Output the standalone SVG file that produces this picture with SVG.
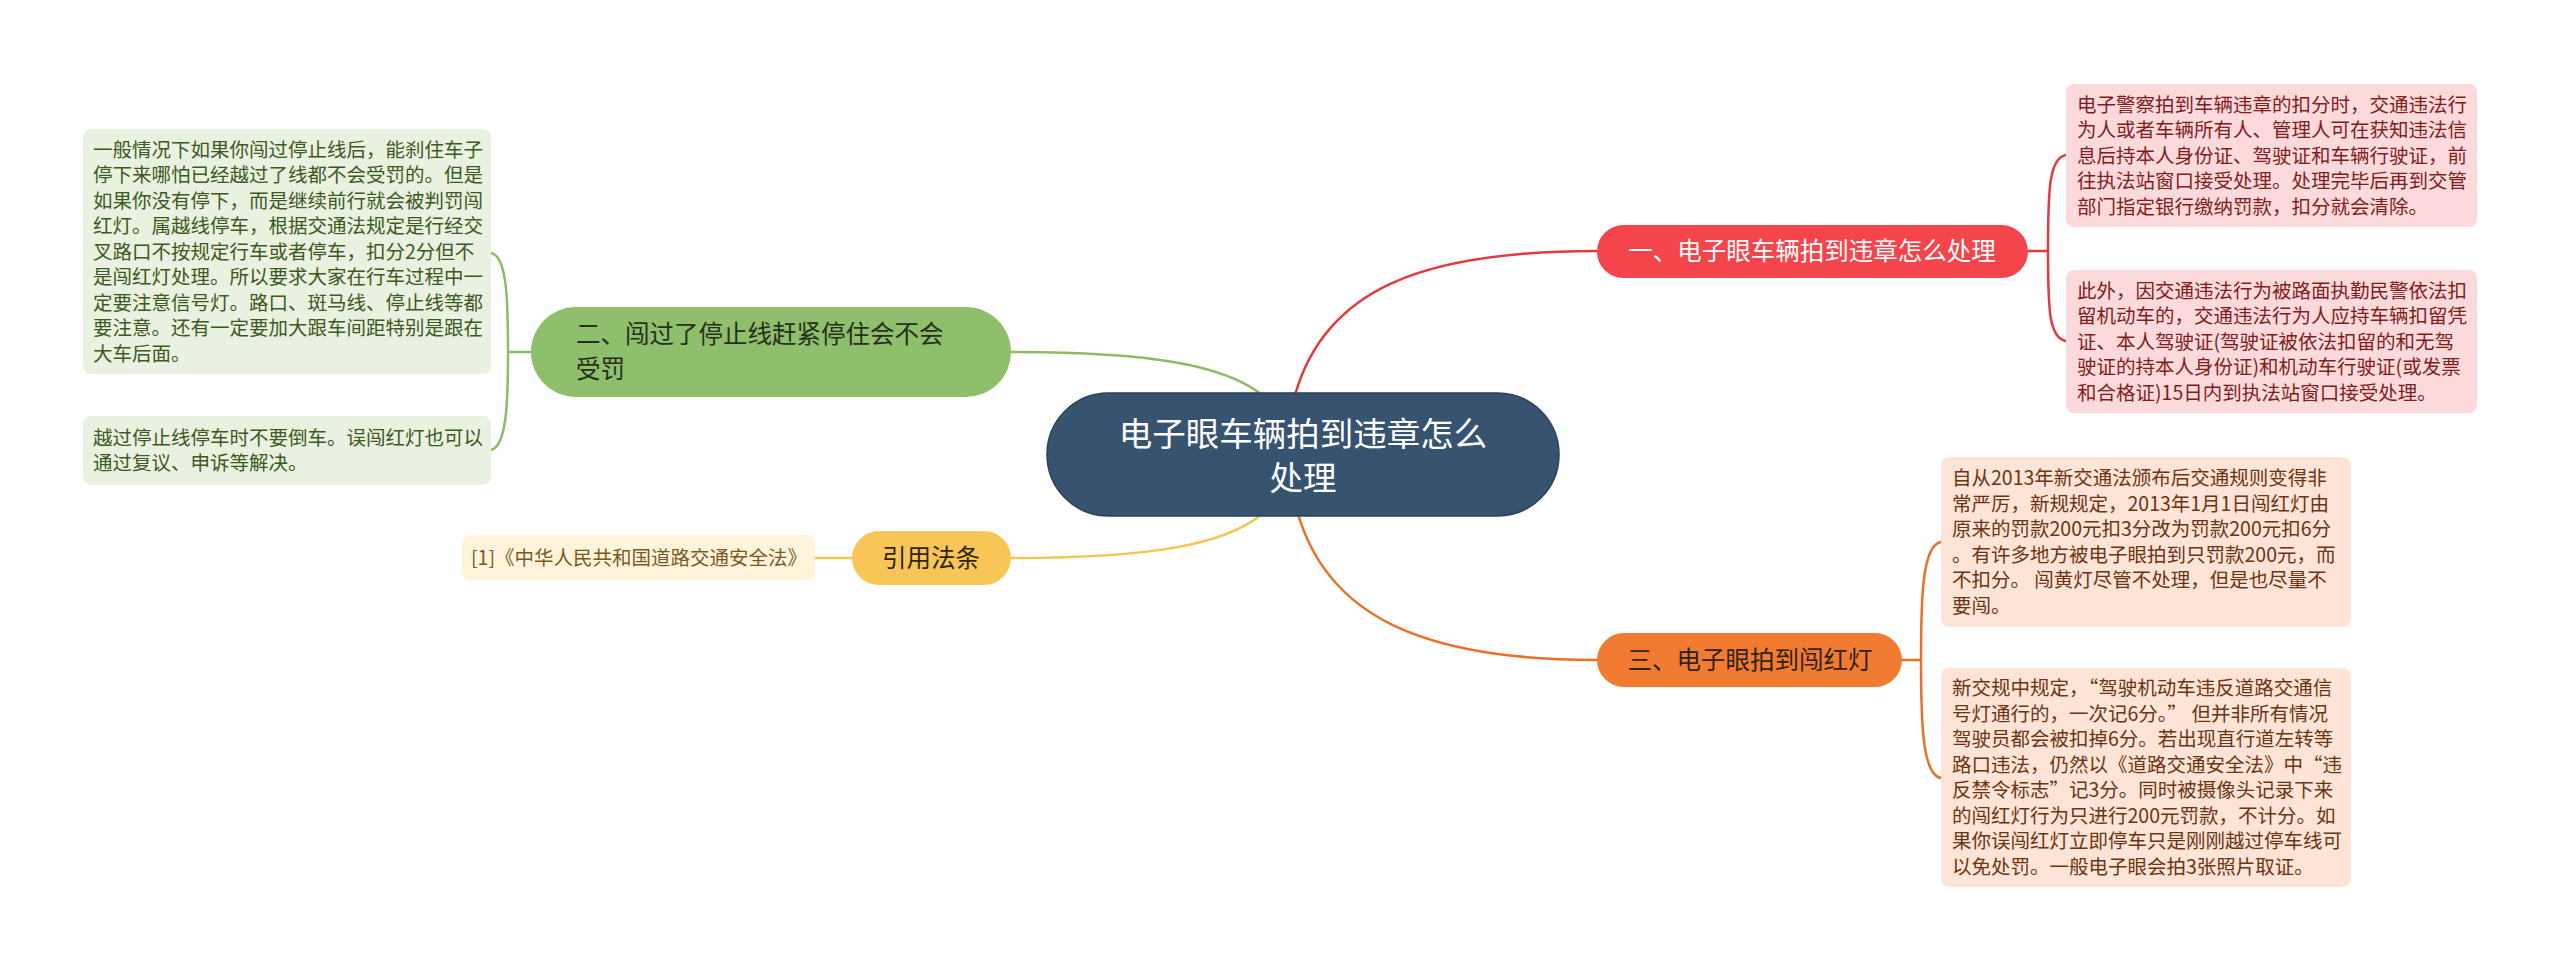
<svg xmlns="http://www.w3.org/2000/svg" width="2560" height="972" viewBox="0 0 2560 972">
<style>
text{font-family:"Noto Sans CJK SC","Noto Sans",sans-serif;}
.lnk{fill:none;stroke-width:2.5;stroke-linecap:round;}
.t{font-size:19.5px;}
.n{font-size:24.5px;}
</style>
<rect width="2560" height="972" fill="#ffffff"/>
<g id="connectors">
  <path class="lnk" stroke="#e23a40" d="M1295,395 C1325,290 1420,251 1597,251"/>
  <path class="lnk" stroke="#e8702a" d="M1298,514 C1328,615 1420,660 1597,660"/>
  <path class="lnk" stroke="#8cbc68" d="M1011,352 C1150,352 1225,365 1262,395"/>
  <path class="lnk" stroke="#f2c450" d="M1011,558 C1150,558 1225,545 1262,514"/>
  <path class="lnk" stroke="#e23a40" d="M2028,251 H2048 M2048,251 C2048,190 2049,158 2066,155 M2048,251 C2048,310 2049,338 2066,341"/>
  <path class="lnk" stroke="#e8702a" d="M1902,660 H1921 M1921,660 C1921,600 1922,545 1941,542 M1921,660 C1921,720 1922,775 1941,778"/>
  <path class="lnk" stroke="#8cbc68" d="M531,352 H508 M508,352 C508,300 507,256 491,253 M508,352 C508,400 507,446 491,450"/>
  <path class="lnk" stroke="#f2c450" d="M852,558 H815"/>
</g>
<g id="center">
  <rect x="1047" y="393" width="512" height="123" rx="61.5" fill="#37536f" stroke="#2a4159" stroke-width="1.5"/>
  <text x="1303" y="446" font-size="33.5" fill="#ffffff" text-anchor="middle">电子眼车辆拍到违章怎么</text>
  <text x="1303" y="490" font-size="33.5" fill="#ffffff" text-anchor="middle">处理</text>
</g>
<g id="node1">
  <rect x="1597" y="225" width="431" height="53" rx="26.5" fill="#f5454c"/>
  <text class="n" x="1812" y="260" fill="#ffffff" text-anchor="middle">一、电子眼车辆拍到违章怎么处理</text>
</g>
<g id="node3">
  <rect x="1597" y="633" width="305" height="54" rx="27" fill="#f17b30"/>
  <text class="n" x="1750" y="669" fill="#2e2216" text-anchor="middle">三、电子眼拍到闯红灯</text>
</g>
<g id="node2">
  <rect x="531" y="307" width="480" height="90" rx="45" fill="#8fbf6c"/>
  <text class="n" x="576" y="343" fill="#24301a">二、闯过了停止线赶紧停住会不会</text>
  <text class="n" x="576" y="378" fill="#24301a">受罚</text>
</g>
<g id="nodeRef">
  <rect x="852" y="531" width="159" height="54" rx="27" fill="#f7c657"/>
  <text class="n" x="931" y="567" fill="#2e2512" text-anchor="middle">引用法条</text>
</g>
<g id="cite">
  <rect x="462" y="535" width="353" height="45" rx="8" fill="#fef4dc"/>
  <text class="t" x="471" y="565" fill="#7a5a1c">[1]《中华人民共和国道路交通安全法》</text>
</g>
<g id="box1">
  <rect x="2066" y="84" width="411" height="143" rx="8" fill="#fcdadb"/>
  <text class="t" fill="#7f1d1d">
    <tspan x="2077" y="111.5">电子警察拍到车辆违章的扣分时，交通违法行</tspan>
    <tspan x="2077" y="137">为人或者车辆所有人、管理人可在获知违法信</tspan>
    <tspan x="2077" y="162.5">息后持本人身份证、驾驶证和车辆行驶证，前</tspan>
    <tspan x="2077" y="188">往执法站窗口接受处理。处理完毕后再到交管</tspan>
    <tspan x="2077" y="213.5">部门指定银行缴纳罚款，扣分就会清除。</tspan>
  </text>
</g>
<g id="box2">
  <rect x="2066" y="270" width="411" height="143" rx="8" fill="#fcdadb"/>
  <text class="t" fill="#7f1d1d">
    <tspan x="2077" y="297.5">此外，因交通违法行为被路面执勤民警依法扣</tspan>
    <tspan x="2077" y="323">留机动车的，交通违法行为人应持车辆扣留凭</tspan>
    <tspan x="2077" y="348.5">证、本人驾驶证(驾驶证被依法扣留的和无驾</tspan>
    <tspan x="2077" y="374">驶证的持本人身份证)和机动车行驶证(或发票</tspan>
    <tspan x="2077" y="399.5">和合格证)15日内到执法站窗口接受处理。</tspan>
  </text>
</g>
<g id="box3">
  <rect x="1941" y="457" width="410" height="170" rx="8" fill="#fde4d7"/>
  <text class="t" fill="#6b3412">
    <tspan x="1952" y="485">自从2013年新交通法颁布后交通规则变得非</tspan>
    <tspan x="1952" y="510.5">常严厉，新规规定，2013年1月1日闯红灯由</tspan>
    <tspan x="1952" y="536">原来的罚款200元扣3分改为罚款200元扣6分</tspan>
    <tspan x="1952" y="561.5">。有许多地方被电子眼拍到只罚款200元，而</tspan>
    <tspan x="1952" y="587">不扣分。 闯黄灯尽管不处理，但是也尽量不</tspan>
    <tspan x="1952" y="612.5">要闯。</tspan>
  </text>
</g>
<g id="box4">
  <rect x="1941" y="668" width="410" height="219" rx="8" fill="#fde4d7"/>
  <text class="t" fill="#6b3412">
    <tspan x="1952" y="695">新交规中规定，“驾驶机动车违反道路交通信</tspan>
    <tspan x="1952" y="720.5">号灯通行的，一次记6分。” 但并非所有情况</tspan>
    <tspan x="1952" y="746">驾驶员都会被扣掉6分。若出现直行道左转等</tspan>
    <tspan x="1952" y="771.5">路口违法，仍然以《道路交通安全法》中“违</tspan>
    <tspan x="1952" y="797">反禁令标志”记3分。同时被摄像头记录下来</tspan>
    <tspan x="1952" y="822.5">的闯红灯行为只进行200元罚款，不计分。如</tspan>
    <tspan x="1952" y="848">果你误闯红灯立即停车只是刚刚越过停车线可</tspan>
    <tspan x="1952" y="873.5">以免处罚。一般电子眼会拍3张照片取证。</tspan>
  </text>
</g>
<g id="boxA">
  <rect x="83" y="129" width="408" height="245" rx="8" fill="#e9f1e1"/>
  <text class="t" fill="#3b5a22">
    <tspan x="93" y="156.5">一般情况下如果你闯过停止线后，能刹住车子</tspan>
    <tspan x="93" y="182">停下来哪怕已经越过了线都不会受罚的。但是</tspan>
    <tspan x="93" y="207.5">如果你没有停下，而是继续前行就会被判罚闯</tspan>
    <tspan x="93" y="233">红灯。属越线停车，根据交通法规定是行经交</tspan>
    <tspan x="93" y="258.5">叉路口不按规定行车或者停车，扣分2分但不</tspan>
    <tspan x="93" y="284">是闯红灯处理。所以要求大家在行车过程中一</tspan>
    <tspan x="93" y="309.5">定要注意信号灯。路口、斑马线、停止线等都</tspan>
    <tspan x="93" y="335">要注意。还有一定要加大跟车间距特别是跟在</tspan>
    <tspan x="93" y="360.5">大车后面。</tspan>
  </text>
</g>
<g id="boxB">
  <rect x="83" y="416" width="408" height="69" rx="8" fill="#e9f1e1"/>
  <text class="t" fill="#3b5a22">
    <tspan x="93" y="444.5">越过停止线停车时不要倒车。误闯红灯也可以</tspan>
    <tspan x="93" y="470">通过复议、申诉等解决。</tspan>
  </text>
</g>
</svg>
